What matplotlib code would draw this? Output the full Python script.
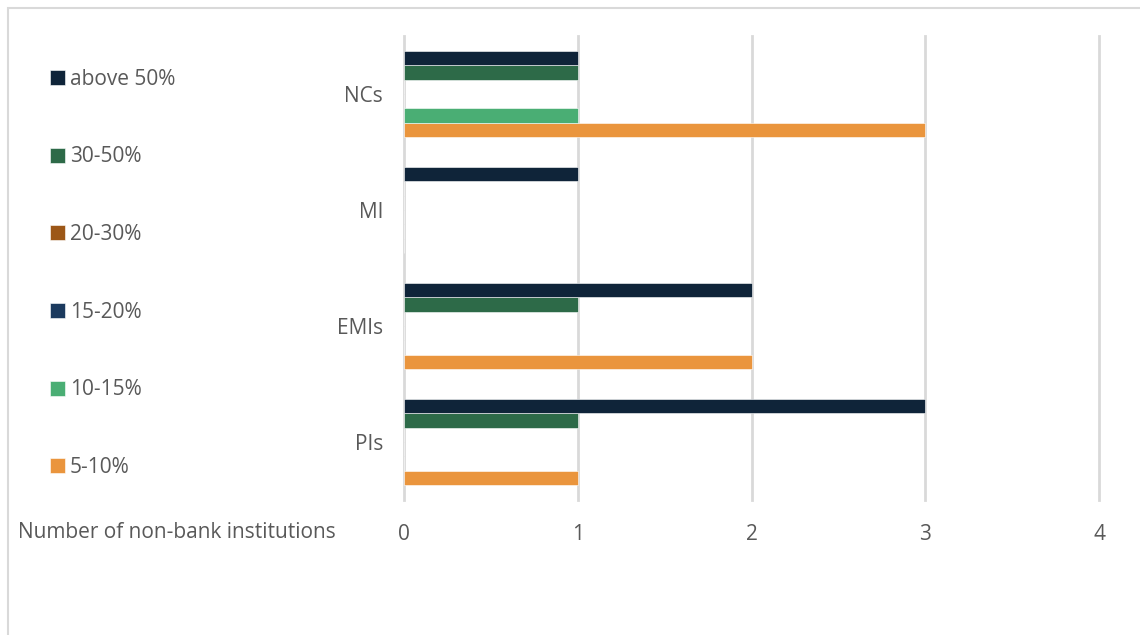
import numpy as np
import matplotlib.pyplot as plt
from matplotlib.patches import Rectangle

categories = ["PIs", "EMIs", "MI", "NCs"]
series = ["5-10%", "10-15%", "15-20%", "20-30%", "30-50%", "above 50%"]
colors = ["#EA953D", "#4AAE74", "#1B3A5E", "#9C5717", "#2D6A48", "#0F2439"]
values = [
    [1, 2, 0, 3],  # 5-10%
    [0, 0, 0, 1],  # 10-15%
    [0, 0, 0, 0],  # 15-20%
    [0, 0, 0, 0],  # 20-30%
    [1, 1, 0, 1],  # 30-50%
    [3, 2, 1, 1],  # above 50%
]
xticks = [0, 1, 2, 3, 4]

plt.rcParams['font.family'] = ['Open Sans', 'DejaVu Sans']
txt = "#595959"
fs = 15

fig = plt.figure(figsize=(11.4, 6.35), dpi=100)
ax = fig.add_axes([404 / 1140, 1 - 500 / 635, 695 / 1140, 464 / 635])

y = np.arange(len(categories))
h = 0.123
handles = []
for j, name in enumerate(series):
    b = ax.barh(y + (j - 2.5) * h, values[j], height=h, color=colors[j],
                edgecolor="white", linewidth=0.4, label=name, zorder=3)
    handles.append(b)

ax.set_xlim(0, 4)
ax.set_ylim(-0.5, 3.5)
ax.set_xticks(xticks)
ax.set_xticklabels([str(t) for t in xticks], fontsize=fs, color=txt)
ax.set_yticks(y)
ax.set_yticklabels(categories, fontsize=fs, color=txt)
ax.tick_params(axis="x", length=0, pad=17)
ax.tick_params(axis="y", length=0, pad=15)
ax.grid(axis="x", color="#D9D9D9", linewidth=2, zorder=0)
for gl in ax.get_xgridlines():
    gl.set_clip_on(False)
for s in ax.spines.values():
    s.set_visible(False)

fig.text(18 / 1140, 1 - 532 / 635, "Number of non-bank institutions",
         fontsize=fs, color=txt, va="center", ha="left")

leg = fig.legend(handles[::-1], series[::-1], loc="upper left",
                 bbox_to_anchor=(31 / 1140, 1 - 50 / 635), frameon=False,
                 fontsize=fs, labelcolor=txt, handlelength=0.72,
                 handleheight=0.72, handletextpad=0.25, labelspacing=2.72)

fig.add_artist(Rectangle((8 / 1140, -0.01), 1.2, 1 - 7.5 / 635 + 0.01,
                         transform=fig.transFigure, fill=False,
                         edgecolor="#D9D9D9", linewidth=1.5))

fig.savefig("out.png", dpi=100)
